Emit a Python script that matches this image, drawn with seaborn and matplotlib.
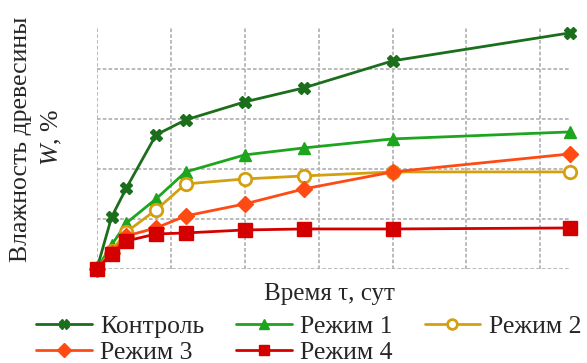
import matplotlib
matplotlib.use("Agg")
import matplotlib.pyplot as plt
import seaborn as sns
import pandas as pd

# Время сушки, сут
days = [0, 1, 2, 4, 6, 10, 14, 20, 32]

# Влажность древесины по режимам, %
control = [0, 10.4, 16.2, 26.8, 29.8, 33.4, 36.2, 41.6, 47.2]
mode1 = [0, 4.8, 9.2, 14.0, 19.4, 22.8, 24.2, 26.0, 27.4]
mode2 = [0, 3.6, 7.4, 11.8, 17.0, 18.0, 18.6, 19.4, 19.4]
mode3 = [0, 3.2, 6.6, 8.2, 10.6, 13.0, 16.0, 19.4, 23.0]
mode4 = [0, 3.0, 5.6, 7.0, 7.2, 7.8, 8.0, 8.0, 8.2]

series_names = ["Контроль", "Режим 1", "Режим 2", "Режим 3", "Режим 4"]
series_values = [control, mode1, mode2, mode3, mode4]

colors = ["#1b6e1b", "#1ea51e", "#d4a010", "#ff4a14", "#d40000"]
markers = ["X", "^", "o", "D", "s"]
msizes = [9, 9, 9, 8, 10]

sns.set_theme(style="white")
plt.rcParams["font.family"] = ["Liberation Serif", "DejaVu Serif"]
plt.rcParams["mathtext.fontset"] = "custom"
plt.rcParams["mathtext.rm"] = "Liberation Serif"
plt.rcParams["mathtext.it"] = "Liberation Serif:italic"

df = pd.DataFrame({
    "day": days * len(series_names),
    "w": sum(series_values, []),
    "series": [n for n in series_names for _ in days],
})

fig = plt.figure(figsize=(5.87, 3.63), dpi=100)
ax = fig.add_axes([0.165, 0.259, 0.806, 0.667])

for name, col, mk, ms in zip(series_names, colors, markers, msizes):
    sub = df[df["series"] == name]
    face = "white" if mk == "o" else col
    sns.lineplot(data=sub, x="day", y="w", ax=ax, color=col, lw=2,
                 marker=mk, markersize=ms, markerfacecolor=face,
                 markeredgecolor=col, markeredgewidth=2 if mk == "o" else 1,
                 label=name, clip_on=False, zorder=3)

ax.set_xlim(0, 32)
ax.set_ylim(0, 48.4)
ax.set_xticks(range(0, 31, 5))
ax.set_yticks(range(0, 41, 10))
ax.tick_params(labelbottom=False, labelleft=False, length=0)
ax.grid(True, color="#b4b4b4", linestyle=(0, (2, 1.2)), lw=1.3)
for sp in ax.spines.values():
    sp.set_visible(False)

ax.set_xlabel("")
ax.set_ylabel("")
fig.text(0.562, 0.19, "Время τ, сут", ha="center", va="center", fontsize=18)
fig.text(0.036, 0.615, "Влажность древесины", rotation=90,
         ha="center", va="center", fontsize=18.5)
fig.text(0.088, 0.62, "$W$, %", rotation=90, ha="center", va="center",
         fontsize=18.5)

# legend filled row by row: three entries on top, two below
handles, labels = ax.get_legend_handles_labels()
order = [0, 3, 1, 4, 2]
leg = ax.legend([handles[i] for i in order], [labels[i] for i in order],
                loc="center", ncol=3, frameon=False,
                fontsize=18.5, handlelength=2.15, handletextpad=0.33,
                columnspacing=1.25, labelspacing=0.12, borderpad=0.0)
leg.set_bbox_to_anchor((0.526, 0.066), transform=fig.transFigure)
for h in leg.legend_handles:
    h.set_markersize(7)

fig.savefig("out.png", dpi=100)
